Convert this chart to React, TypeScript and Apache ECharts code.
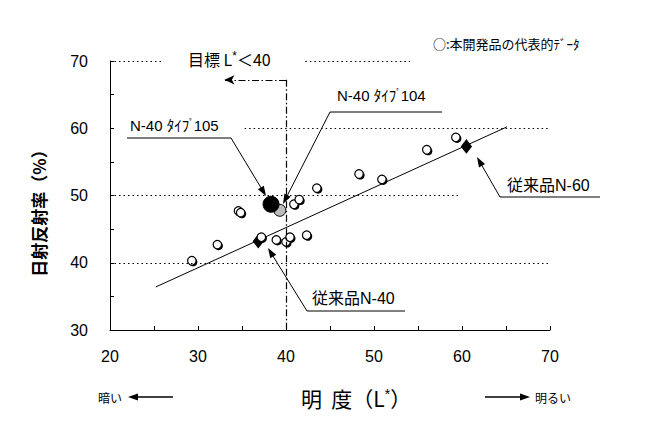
import React, { useEffect, useRef } from "react";
import * as echarts from "echarts";

// 本開発品の代表的データ (L*, 日射反射率%)
const devX = [29.3, 32.2, 37.2, 38.9, 40.0, 40.45, 42.35, 34.6, 34.85, 40.9, 41.5, 43.5, 48.3, 50.9, 56.0, 59.3];
const devY = [40.3, 42.7, 43.8, 43.4, 43.1, 43.8, 44.1, 47.7, 47.45, 48.7, 49.4, 51.1, 53.2, 52.4, 56.8, 58.65];
// N-40 タイプ105 / タイプ104
const type105 = [38.3, 48.7];
const type104 = [39.3, 47.8];
// 従来品 N-40, N-60
const convX = [36.85, 60.5];
const convY = [43.2, 57.3];
// 回帰直線
const fitX = [25.2, 65.1];
const fitY = [36.4, 60.2];
// 目標 L* < 40
const targetL = 40;
const targetTop = 67.2;
const targetArrowEnd = 33;

const xMin = 20, xMax = 70, yMin = 30, yMax = 70, step = 10;

const FONT = '"Liberation Sans", "Noto Sans CJK JP", sans-serif';
const JP = '"Noto Sans CJK JP", "Liberation Sans", sans-serif';

// partial dotted grid segments [x0, x1, y]
const gridSegs: [number, number, number][] = [
  [20, 25.9, 70],
  [42.2, 54.1, 70],
  [35.3, 70, 60],
  [20, 59.8, 50],
  [20, 70, 40],
];

type P = [number, number];
function head(tail: P, tip: P, len = 10, half = 3.5): number[][] {
  const dx = tip[0] - tail[0], dy = tip[1] - tail[1];
  const d = Math.hypot(dx, dy);
  const ux = dx / d, uy = dy / d;
  const bx = tip[0] - ux * len, by = tip[1] - uy * len;
  return [[tip[0], tip[1]], [bx - uy * half, by + ux * half], [bx + uy * half, by - ux * half]];
}
function base(tail: P, tip: P, len = 8): P {
  const dx = tip[0] - tail[0], dy = tip[1] - tail[1];
  const d = Math.hypot(dx, dy);
  return [tip[0] - (dx / d) * len, tip[1] - (dy / d) * len];
}

function typeLabel(num: string, size = 15) {
  return {
    rich: {
      a: { font: `${size}px ${FONT}`, fill: "#000" },
      d: { font: `${Math.round(size * 0.6)}px ${JP}`, fill: "#000", padding: [0, 0, 6, 0] },
    },
    text: `{a|N-40 ﾀｲﾌ}{d|ﾟ}{a|${num}}`,
  };
}

function callout(style: any, tx: number, ty: number, ul: [number, number, number], tail: P, tip: P, size = 15): any[] {
  const b = base(tail, tip);
  return [
    { type: "text", left: tx, top: ty - size * 0.65, style },
    { type: "line", shape: { x1: ul[0], y1: ul[2], x2: ul[1], y2: ul[2] }, style: { stroke: "#000", lineWidth: 1 } },
    { type: "line", shape: { x1: tail[0], y1: tail[1], x2: b[0], y2: b[1] }, style: { stroke: "#000", lineWidth: 1 } },
    { type: "polygon", shape: { points: head(tail, tip) }, style: { fill: "#000" } },
  ];
}

export default function App() {
  const ref = useRef<HTMLDivElement>(null);
  useEffect(() => {
    const chart = echarts.init(ref.current!, null, { renderer: "svg" });
    const dev = devX.map((x, i) => [x, devY[i]]);
    const conv = convX.map((x, i) => [x, convY[i]]);
    const fit = fitX.map((x, i) => [x, fitY[i]]);
    const dotted = { type: [1.5, 3] as any, color: "#000", width: 1 };
    const dashDot = { type: [7, 2.5, 1.5, 2.5] as any, color: "#000", width: 1.2 };

    const graphic: any[] = [
      // legend
      { type: "text", left: 433, top: 37, style: { text: "○:本開発品の代表的ﾃﾞｰﾀ", font: `13px ${JP}`, fill: "#000" } },
      // target label
      {
        type: "text", left: 188, top: 50,
        style: {
          rich: { a: { font: `16px ${JP}`, fill: "#000" }, s: { font: `12px ${FONT}`, fill: "#000", padding: [0, 0, 6, 0] } },
          text: "{a|目標 L}{s|*}{a|＜40}",
        },
      },
      // y axis name
      {
        type: "text", x: 38, y: 209, rotation: Math.PI / 2,
        style: { text: "日射反射率（%）", font: `bold 17px ${JP}`, fill: "#000", align: "center", verticalAlign: "middle" },
      },
      // x axis name
      {
        type: "text", x: 356, y: 398,
        style: {
          rich: { a: { font: `21px ${JP}`, fill: "#000" }, s: { font: `14px ${FONT}`, fill: "#000", padding: [0, 0, 9, 0] } },
          text: "{a|明  度（L}{s|*}{a|）}", align: "center", verticalAlign: "middle",
        },
      },
      // dark / bright
      { type: "text", x: 98, y: 397, style: { text: "暗い", font: `12px ${JP}`, fill: "#000", verticalAlign: "middle" } },
      { type: "line", shape: { x1: 138, y1: 397, x2: 173, y2: 397 }, style: { stroke: "#000", lineWidth: 1.5 } },
      { type: "polygon", shape: { points: head([173, 397], [128, 397], 10, 3.5) }, style: { fill: "#000" } },
      { type: "line", shape: { x1: 485, y1: 397, x2: 520, y2: 397 }, style: { stroke: "#000", lineWidth: 1.5 } },
      { type: "polygon", shape: { points: head([485, 397], [530, 397], 10, 3.5) }, style: { fill: "#000" } },
      { type: "text", x: 535, y: 397, style: { text: "明るい", font: `12px ${JP}`, fill: "#000", verticalAlign: "middle" } },
      ...callout(typeLabel("105"), 130, 128, [127, 231, 138], [231, 138], [266, 196]),
      ...callout(typeLabel("104"), 337, 98, [330, 442, 112], [330, 112], [283, 204]),
      ...callout({ text: "従来品N-40", font: `16px ${FONT}`, fill: "#000" }, 312, 301, [307, 405, 311], [307, 311], [268, 248], 16),
      ...callout({ text: "従来品N-60", font: `16px ${FONT}`, fill: "#000" }, 507, 188, [500, 600, 197], [500, 197], [477, 157], 16),
    ];

    chart.setOption({
      animation: false,
      backgroundColor: "#fff",
      grid: { left: 110, top: 61, width: 440, height: 269, containLabel: false },
      xAxis: {
        type: "value", min: xMin, max: xMax, interval: step,
        axisLine: { lineStyle: { color: "#000", width: 1 } },
        axisTick: { show: true, inside: true, length: 4, lineStyle: { color: "#000" } },
        minorTick: { show: true, splitNumber: 2, length: 4, lineStyle: { color: "#000" } },
        axisLabel: { color: "#000", fontSize: 16, fontFamily: FONT, margin: 18 },
        splitLine: { show: false },
      },
      yAxis: {
        type: "value", min: yMin, max: yMax, interval: step,
        axisLine: { show: true, lineStyle: { color: "#000", width: 1 } },
        axisTick: { show: true, inside: true, length: 4, lineStyle: { color: "#000" } },
        minorTick: { show: true, splitNumber: 2, length: 4, lineStyle: { color: "#000" } },
        axisLabel: { color: "#000", fontSize: 16, fontFamily: FONT, margin: 22 },
        splitLine: { show: false },
      },
      graphic,
      series: [
        {
          type: "line", data: fit, symbol: "none", lineStyle: { color: "#000", width: 1 }, z: 2,
          markLine: {
            silent: true, symbol: "none", label: { show: false }, lineStyle: dotted,
            data: gridSegs.map(([a, b, y]) => [{ coord: [a, y] }, { coord: [b, y] }]),
          },
        },
        {
          type: "scatter", data: conv, symbol: "diamond", symbolSize: [10, 13],
          itemStyle: { color: "#000", borderColor: "#000", opacity: 1 }, z: 3,
          markLine: {
            silent: true, symbol: "none", label: { show: false }, lineStyle: dashDot,
            data: [[{ coord: [targetL, targetTop] }, { coord: [targetL, yMin] }]],
          },
        },
        {
          type: "scatter", data: dev, symbol: "circle", symbolSize: 8.5, symbolOffset: [1.3, 1.3],
          itemStyle: { color: "#000", opacity: 1 }, z: 3,
          markLine: {
            silent: true, symbol: ["none", "arrow"], symbolSize: [7, 10], label: { show: false }, lineStyle: dashDot,
            data: [[{ coord: [targetL, targetTop] }, { coord: [targetArrowEnd, targetTop] }]],
          },
        },
        {
          type: "scatter", data: dev, symbol: "circle", symbolSize: 8.5,
          itemStyle: { color: "#fff", borderColor: "#000", borderWidth: 1.2, opacity: 1 }, z: 4,
        },
        {
          type: "scatter", data: [type104], symbol: "circle", symbolSize: 12,
          itemStyle: {
            color: "#bbb", borderColor: "#000", borderWidth: 1, opacity: 1,
            decal: { symbol: "rect", symbolSize: 1, color: "#222", dashArrayX: [1, 0], dashArrayY: [1.5, 1.5], rotation: Math.PI / 4 },
          }, z: 5,
        },
        {
          type: "scatter", data: [type105], symbol: "circle", symbolSize: 16,
          itemStyle: { color: "#000", borderColor: "#000", opacity: 1 }, z: 6,
        },
      ],
    });
    return () => chart.dispose();
  }, []);
  return <div ref={ref} style={{ position: "fixed", left: 0, top: 0, width: 646, height: 428 }} />;
}
